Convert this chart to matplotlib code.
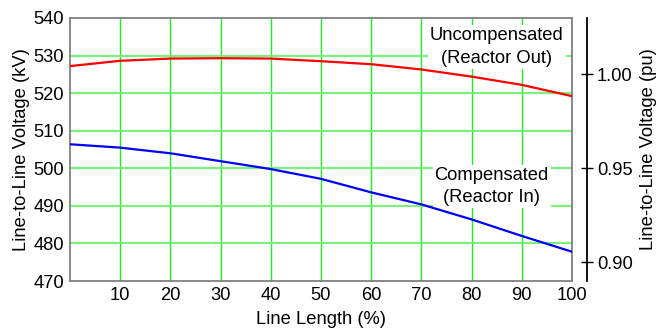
import matplotlib.pyplot as plt

plt.rcParams['font.family'] = ['Liberation Sans', 'DejaVu Sans']

# line length (%) and line-to-line voltage (kV)
length = [0, 10, 20, 30, 40, 50, 60, 70, 80, 90, 100]
uncompensated = [527.2, 528.6, 529.2, 529.3, 529.2, 528.5, 527.7, 526.3, 524.4, 522.2, 519.2]
compensated = [506.4, 505.5, 504.0, 501.9, 499.8, 497.2, 493.6, 490.4, 486.4, 482.0, 477.8]

x_ticks = [10, 20, 30, 40, 50, 60, 70, 80, 90, 100]
kv_ticks = [470, 480, 490, 500, 510, 520, 530, 540]
pu_ticks = [0.90, 0.95, 1.00]

FS = 13.2

fig = plt.figure(figsize=(6.59, 3.33), dpi=100)
ax = fig.add_axes([0.106, 0.156, 0.762, 0.79])

for x in x_ticks:
    ax.axvline(x, color='#22ee22', lw=1.0, zorder=1)
for y in kv_ticks[1:-1]:
    ax.axhline(y, color='#7cf07c', lw=1.6, zorder=1)

ax.plot(length, uncompensated, color='#ff0000', lw=1.6, zorder=5)
ax.plot(length, compensated, color='#0000ff', lw=1.6, zorder=5)

ax.set_xlim(0, 100)
ax.set_ylim(470, 540)
ax.set_xticks(x_ticks)
ax.set_yticks(kv_ticks)
ax.tick_params(length=0, labelsize=FS, pad=4)
for s in ax.spines.values():
    s.set_color('#808080')
    s.set_linewidth(1.3)

ax.set_xlabel('Line Length (%)', fontsize=FS, labelpad=5)
ax.set_ylabel('Line-to-Line Voltage (kV)', fontsize=FS, labelpad=3)

ax.text(85, 532.3, 'Uncompensated\n(Reactor Out)', fontsize=FS, ha='center', va='center',
        linespacing=1.4, zorder=4,
        bbox=dict(facecolor='white', edgecolor='none', pad=1.5))
ax.text(84, 495.2, 'Compensated\n(Reactor In)', fontsize=FS, ha='center', va='center',
        linespacing=1.4, zorder=4,
        bbox=dict(facecolor='white', edgecolor='none', pad=1.5))

# per-unit axis on the right
ax2 = ax.twinx()
ax2.set_ylim(0.89, 1.03)
ax2.set_yticks(pu_ticks)
ax2.set_yticklabels(['0.90', '0.95', '1.00'])
for name in ['left', 'top', 'bottom']:
    ax2.spines[name].set_visible(False)
ax2.spines['right'].set_position(('outward', 11))
ax2.spines['right'].set_color('black')
ax2.spines['right'].set_linewidth(1.3)
ax2.tick_params(axis='y', direction='inout', length=8, width=1, labelsize=FS, pad=3)
ax2.set_ylabel('Line-to-Line Voltage (pu)', fontsize=FS, labelpad=5)

fig.savefig('out.png', dpi=100)
